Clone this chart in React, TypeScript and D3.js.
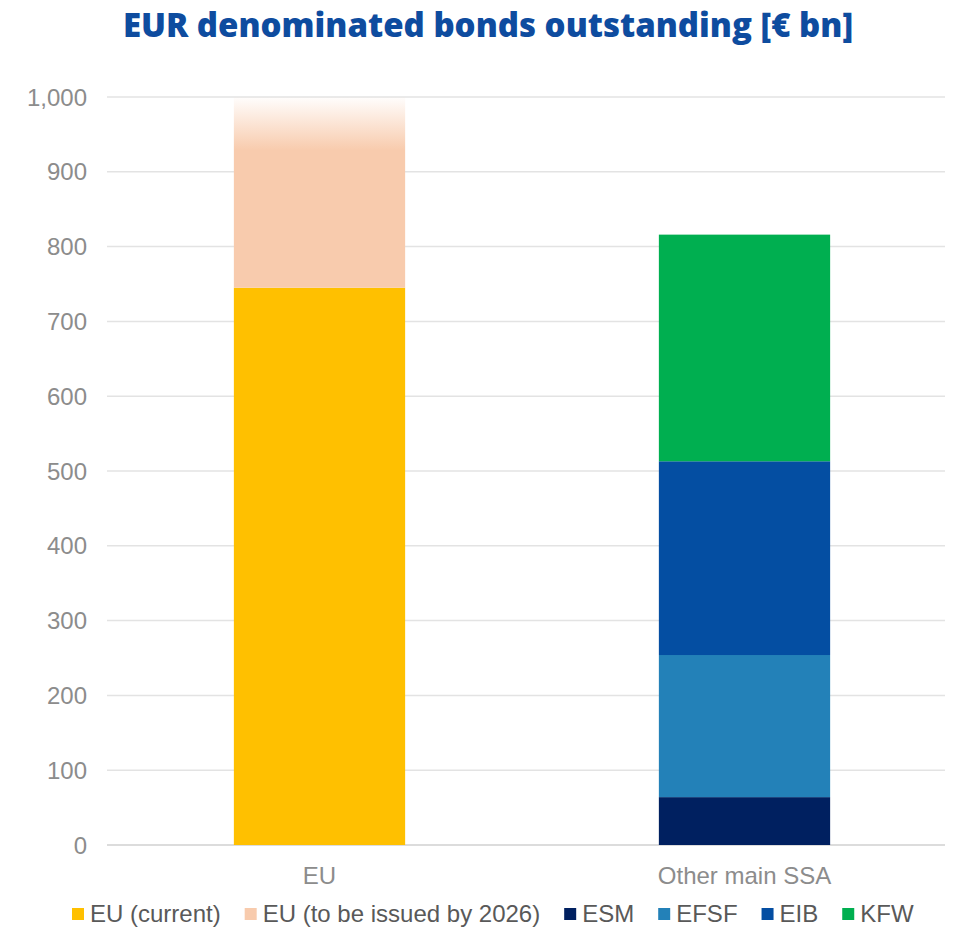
import React, { useEffect, useRef } from "react";
import * as d3 from "d3";

const categories = ["EU", "Other main SSA"];
const seriesNames = ["EU (current)", "EU (to be issued by 2026)", "ESM", "EFSF", "EIB", "KFW"];
const seriesColors = ["#FFC000", "#F8CBAD", "#002060", "#2381B8", "#044EA2", "#00AF50"];
// values per series for [EU, Other main SSA]
const euCurrent = [745, 0];
const euToBeIssued = [255, 0];
const esm = [0, 64];
const efsf = [0, 190];
const eib = [0, 259];
const kfw = [0, 303];
const yTicks = [0, 100, 200, 300, 400, 500, 600, 700, 800, 900, 1000];
const title = "EUR denominated bonds outstanding [€ bn]";

const W = 969;
const H = 927;

export default function App() {
  const ref = useRef<SVGSVGElement | null>(null);

  useEffect(() => {
    const svg = d3.select(ref.current);
    svg.selectAll("*").remove();
    const series = [euCurrent, euToBeIssued, esm, efsf, eib, kfw];

    const y = d3.scaleLinear().domain([0, 1000]).range([845, 97]);
    const x = d3.scaleBand<string>().domain(categories).range([107, 957]).padding(0);
    const barW = x.bandwidth() * 0.403;

    const defs = svg.append("defs");
    const grad = defs.append("linearGradient").attr("id", "fadeGrad").attr("x1", 0).attr("x2", 0).attr("y1", 0).attr("y2", 1);
    grad.append("stop").attr("offset", 0).attr("stop-color", seriesColors[1]).attr("stop-opacity", 0.03);
    grad.append("stop").attr("offset", 0.28).attr("stop-color", seriesColors[1]).attr("stop-opacity", 1);
    grad.append("stop").attr("offset", 1).attr("stop-color", seriesColors[1]).attr("stop-opacity", 1);

    // title
    svg.append("text").attr("x", 488).attr("y", 37).attr("text-anchor", "middle")
      .attr("font-family", "'Open Sans', sans-serif").attr("font-weight", 800)
      .attr("font-size", 33).attr("fill", "#0E4C9F").text(title);

    // gridlines
    const g = svg.append("g");
    g.selectAll("line.grid").data(yTicks).enter().append("line")
      .attr("x1", 107).attr("x2", 945)
      .attr("y1", (d) => y(d)).attr("y2", (d) => y(d))
      .attr("stroke", (d) => (d === 0 ? "#D0D0D0" : "#E3E3E3")).attr("stroke-width", 1.5);

    g.selectAll("text.ytick").data(yTicks).enter().append("text")
      .attr("x", 87).attr("y", (d) => y(d)).attr("dy", "0.36em").attr("text-anchor", "end")
      .attr("font-family", "'Liberation Sans', Arial, sans-serif").attr("font-size", 24)
      .attr("fill", "#8C8C8C").text((d) => d3.format(",")(d));

    // bars
    categories.forEach((c, ci) => {
      let acc = 0;
      series.forEach((s, si) => {
        const v = s[ci];
        if (!v) return;
        const y0 = y(acc);
        const y1 = y(acc + v);
        acc += v;
        svg.append("rect")
          .attr("x", (x(c) as number) + x.bandwidth() / 2 - barW / 2)
          .attr("width", barW)
          .attr("y", y1).attr("height", y0 - y1)
          .attr("fill", si === 1 ? "url(#fadeGrad)" : seriesColors[si]);
      });
      svg.append("text").attr("x", (x(c) as number) + x.bandwidth() / 2).attr("y", 884)
        .attr("text-anchor", "middle").attr("font-family", "'Liberation Sans', Arial, sans-serif")
        .attr("font-size", 24).attr("fill", "#8C8C8C").text(c);
    });

    // legend
    const lg = svg.append("g");
    const items = lg.selectAll("g.item").data(seriesNames).enter().append("g");
    items.append("rect").attr("width", 12).attr("height", 12).attr("y", -14)
      .attr("fill", (_d, i) => seriesColors[i]);
    const texts = items.append("text").attr("x", 18).attr("y", 0)
      .attr("font-family", "'Liberation Sans', Arial, sans-serif").attr("font-size", 24)
      .attr("fill", "#595959").text((d) => d);
    const widths: number[] = [];
    texts.each(function () { widths.push((this as SVGTextElement).getComputedTextLength() + 18); });
    const gap = 24;
    let cx = 72;
    items.attr("transform", (_d, i) => {
      const t = `translate(${cx},922)`;
      cx += widths[i] + gap;
      return t;
    });
  }, []);

  return <svg ref={ref} width={W} height={H} style={{ display: "block", position: "absolute", left: 0, top: 0 }} />;
}
